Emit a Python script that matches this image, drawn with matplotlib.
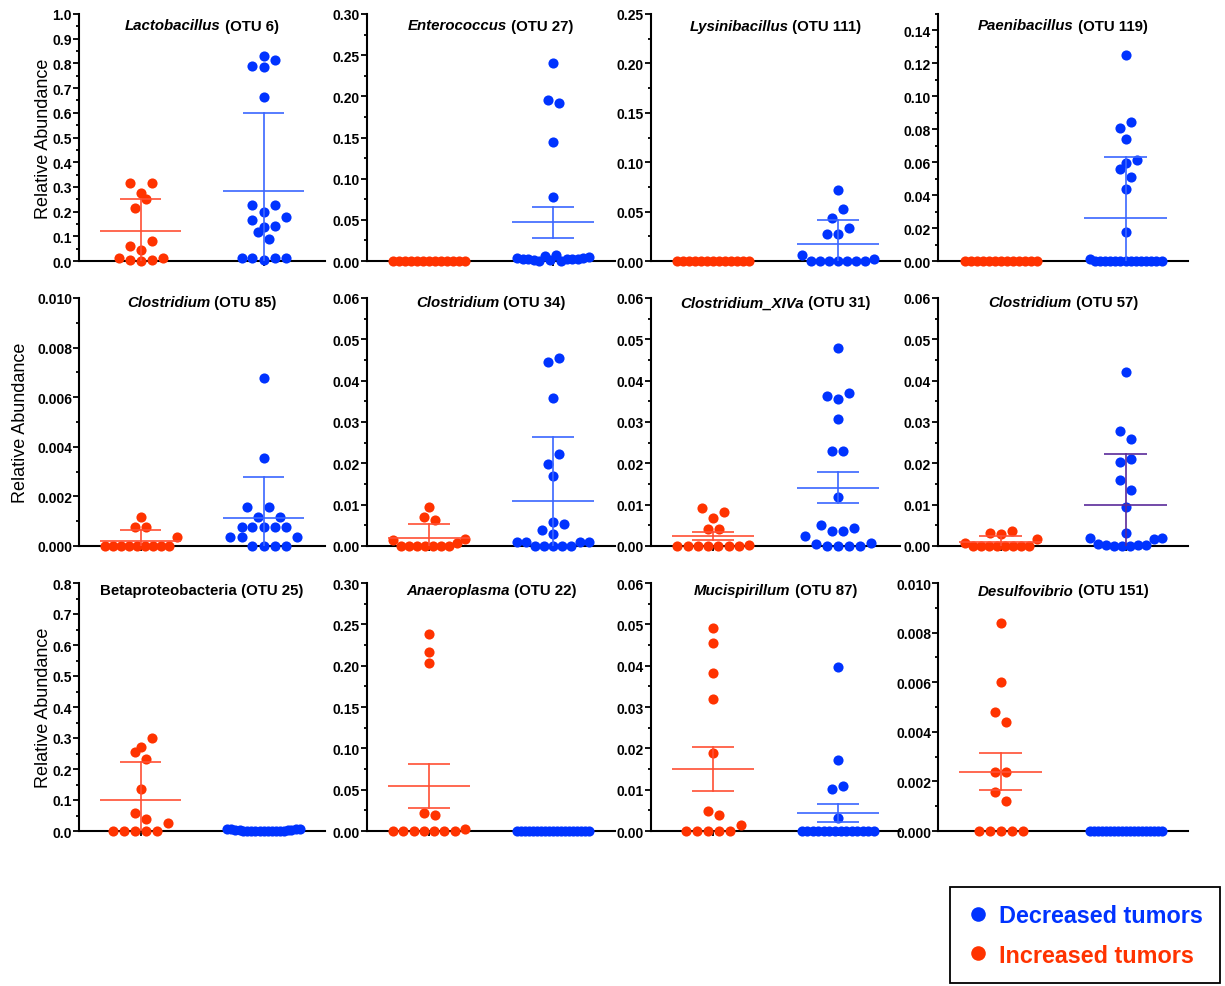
import numpy as np
import matplotlib
matplotlib.use("Agg")
import matplotlib.pyplot as plt
from matplotlib.ticker import MultipleLocator, FormatStrFormatter
from matplotlib.transforms import offset_copy
from matplotlib.lines import Line2D

plt.rcParams['font.family'] = ['Liberation Sans', 'DejaVu Sans']
plt.rcParams['font.weight'] = 'bold'

# ---------------- data ----------------
genus = ["Lactobacillus", "Enterococcus", "Lysinibacillus", "Paenibacillus",
         "Clostridium", "Clostridium", "Clostridium_XIVa", "Clostridium",
         "Betaproteobacteria", "Anaeroplasma", "Mucispirillum", "Desulfovibrio"]
genus_italic = [True, True, True, True, True, True, True, True, False, True, True, True]
otu = [" (OTU 6)", " (OTU 27)", " (OTU 111)", " (OTU 119)",
       " (OTU 85)", " (OTU 34)", " (OTU 31)", " (OTU 57)",
       " (OTU 25)", " (OTU 22)", " (OTU 87)", " (OTU 151)"]

inc_otu6 = [0.315, 0.277, 0.315, 0.216, 0.250, 0.060, 0.046, 0.080, 0.011, 0.004, 0.000, 0.004, 0.011]
dec_otu6 = [0.831, 0.790, 0.785, 0.814, 0.665, 0.228, 0.200, 0.228, 0.166, 0.138, 0.142, 0.177,
            0.117, 0.088, 0.011, 0.011, 0.004, 0.011, 0.011]
inc_otu27 = [0, 0, 0, 0, 0, 0, 0, 0, 0, 0, 0, 0, 0]
dec_otu27 = [0.240, 0.196, 0.192, 0.1445, 0.0773, 0.004, 0.003, 0.002, 0.001, 0.0005, 0.006, 0.001,
             0.0077, 0.0005, 0.002, 0.003, 0.003, 0.004, 0.005]
inc_otu111 = [0, 0, 0, 0, 0, 0, 0, 0, 0, 0, 0, 0, 0]
dec_otu111 = [0.0722, 0.0432, 0.0523, 0.027, 0.027, 0.033, 0.0057, 0, 0, 0, 0, 0, 0, 0, 0.0024]
inc_otu119 = [0, 0, 0, 0, 0, 0, 0, 0, 0, 0, 0, 0, 0]
dec_otu119 = [0.1254, 0.0805, 0.0846, 0.0738, 0.0598, 0.0560, 0.0613, 0.0513, 0.0436, 0.0174,
              0.001, 0, 0, 0, 0, 0, 0, 0, 0, 0, 0, 0, 0, 0, 0]
inc_otu85 = [0.00075, 0.00075, 0.00116, 0, 0, 0, 0, 0, 0, 0, 0, 0, 0.00035]
dec_otu85 = [0.00678, 0.00356, 0.00156, 0.00118, 0.00156, 0.00118, 0.00077, 0.00077, 0.00077,
             0.00077, 0.00077, 0.00035, 0.00035, 0, 0, 0, 0, 0.00035]
inc_otu34 = [0.0094, 0.0070, 0.0063, 0.00146, 0, 0, 0, 0, 0, 0, 0, 0.00065, 0.0018]
dec_otu34 = [0.0446, 0.0454, 0.0358, 0.0199, 0.0223, 0.0170, 0.0059, 0.0039, 0.0030, 0.0054,
             0.001, 0.001, 0, 0, 0, 0, 0, 0.001, 0.001]
inc_otu31 = [0.0091, 0.0067, 0.0083, 0.0040, 0.0040, 0, 0, 0, 0, 0, 0, 0, 0.0003]
dec_otu31 = [0.0479, 0.0364, 0.0355, 0.0370, 0.0307, 0.0231, 0.0231, 0.0119, 0.0051, 0.0036,
             0.0036, 0.0044, 0.0023, 0.0004, 0, 0, 0, 0, 0.0007]
inc_otu57 = [0.0032, 0.0028, 0.0036, 0.0007, 0, 0, 0, 0, 0, 0, 0, 0, 0.0016]
dec_otu57 = [0.0420, 0.0279, 0.0259, 0.0204, 0.0210, 0.0159, 0.0135, 0.0095, 0.0031, 0.0020,
             0.0006, 0.0003, 0, 0, 0, 0.0003, 0.0003, 0.0017, 0.0019]
inc_otu25 = [0.2717, 0.2997, 0.2534, 0.2318, 0.137, 0.0582, 0.040, 0, 0, 0, 0, 0, 0.0248]
dec_otu25 = [0.006, 0.005, 0.003, 0.002, 0.001, 0.001, 0, 0, 0, 0, 0, 0, 0, 0.001, 0.001,
             0.002, 0.004, 0.006, 0.007]
inc_otu22 = [0.2386, 0.2171, 0.2034, 0.0222, 0.0190, 0, 0, 0, 0, 0, 0, 0, 0.002]
dec_otu22 = [0, 0, 0, 0, 0, 0, 0, 0, 0, 0, 0, 0, 0, 0, 0, 0, 0, 0, 0]
inc_otu87 = [0.0492, 0.0455, 0.0383, 0.0320, 0.0188, 0.0049, 0.0038, 0, 0, 0, 0, 0, 0.0014]
dec_otu87 = [0.0396, 0.0172, 0.0101, 0.0109, 0.0032, 0, 0, 0, 0, 0, 0, 0, 0, 0, 0, 0, 0, 0, 0]
inc_otu151 = [0.00838, 0.0060, 0.00478, 0.0044, 0.00239, 0.00239, 0.00158, 0.0012, 0, 0, 0, 0, 0]
dec_otu151 = [0, 0, 0, 0, 0, 0, 0, 0, 0, 0, 0, 0, 0, 0, 0, 0, 0, 0, 0]

increased = [inc_otu6, inc_otu27, inc_otu111, inc_otu119, inc_otu85, inc_otu34,
             inc_otu31, inc_otu57, inc_otu25, inc_otu22, inc_otu87, inc_otu151]
decreased = [dec_otu6, dec_otu27, dec_otu111, dec_otu119, dec_otu85, dec_otu34,
             dec_otu31, dec_otu57, dec_otu25, dec_otu22, dec_otu87, dec_otu151]

# mean line and error bar ends (lower end may lie below 0)
inc_mean = [0.123, 0, 0, 0, 0.00022, 0.0020, 0.0024, 0.0010, 0.1003, 0.0546, 0.0150, 0.00239]
inc_low = [-0.006, 0, 0, 0, -0.0002, -0.0013, 0.0015, -0.0003, -0.020, 0.0279, 0.0096, 0.00164]
inc_high = [0.252, 0, 0, 0, 0.00063, 0.0053, 0.0035, 0.0023, 0.221, 0.0805, 0.0204, 0.00314]
dec_mean = [0.284, 0.047, 0.0169, 0.026, 0.00113, 0.0109, 0.0140, 0.00987, 0.001, 0, 0.0044, 0]
dec_low = [-0.03, 0.028, -0.008, -0.011, -0.0005, -0.0046, 0.0103, -0.0026, 0.001, 0, 0.0022, 0]
dec_high = [0.598, 0.0656, 0.0415, 0.0633, 0.00279, 0.0264, 0.0178, 0.0223, 0.001, 0, 0.0066, 0]

y_max = [1.0, 0.30, 0.25, 0.15, 0.010, 0.06, 0.06, 0.06, 0.8, 0.30, 0.06, 0.010]
y_major = [0.1, 0.05, 0.05, 0.02, 0.002, 0.01, 0.01, 0.01, 0.1, 0.05, 0.01, 0.002]
y_decimals = [1, 2, 2, 2, 3, 2, 2, 2, 1, 2, 2, 3]

legend_labels = ["Decreased tumors", "Increased tumors"]

# ---------------- style ----------------
RED = "#ff3300"
BLUE = "#0033ff"
RED_LINE = "#ff4f33"
BLUE_LINE = "#3a66ff"
PURPLE_LINE = "#5a2a9a"

W, H = 1225, 987
col_left = [79, 367, 651, 938]
col_w = [246, 248, 249, 250]
row_top = [15, 299, 584]
row_h = [247, 248, 248]
title_base = [15.5, 8.5, 11.5]   # px from axes top to title baseline
ylabel_x = [-0.108, -0.205, -0.108]

DOT_PX = 10.0
STEP_PX = 11.0
MAXHALF_PX = 36.0
COLLIDE_PX = 7.5


def layout(values, center, ymax, w_px, h_px):
    v = np.asarray(values, float)
    n = len(v)
    dy = DOT_PX / h_px * ymax
    order = sorted(range(n), key=lambda i: (v[i], i))
    rows = []
    for i in order:
        if rows and v[i] - v[rows[-1][0]] < dy:
            rows[-1].append(i)
        else:
            rows.append([i])
    xpx = np.zeros(n)
    ypx = v / ymax * h_px
    placed = []
    for r in rows:
        r = sorted(r)
        m = len(r)
        step = STEP_PX if m == 1 else min(STEP_PX, 2 * MAXHALF_PX / (m - 1))
        base = [(k - (m - 1) / 2) * step for k in range(m)]
        chosen = 0.0
        for s in [0, 1, -1, 2, -2, 3, -3, 4, -4, 5, -5, 6, -6]:
            shift = s * STEP_PX / 2
            ok = True
            for b, i in zip(base, r):
                for j in placed:
                    if np.hypot(b + shift - xpx[j], ypx[i] - ypx[j]) < COLLIDE_PX:
                        ok = False
                        break
                if not ok:
                    break
            if ok:
                chosen = shift
                break
        for b, i in zip(base, r):
            xpx[i] = b + chosen
        placed.extend(r)
    return center + xpx * 2.0 / w_px


fig = plt.figure(figsize=(W / 100, H / 100), dpi=100)
renderer = fig.canvas.get_renderer()

for p in range(12):
    rr, cc = divmod(p, 4)
    l, w = col_left[cc], col_w[cc]
    t, h = row_top[rr], row_h[rr]
    ax = fig.add_axes([l / W, 1 - (t + h) / H, w / W, h / H])
    ymax = y_max[p]
    groups = [(0, increased[p], RED, RED_LINE, inc_mean[p], inc_low[p], inc_high[p]),
              (1, decreased[p], BLUE, BLUE_LINE, dec_mean[p], dec_low[p], dec_high[p])]
    for gx, vals, col, lcol, mu, lo, hi in groups:
        xs = layout(vals, gx, ymax, w, h)
        ax.plot(xs, vals, linestyle='none', marker='o', markersize=7.3,
                markerfacecolor=col, markeredgecolor=col, markeredgewidth=0,
                clip_on=False, zorder=3)
        if p == 7 and gx == 1:
            lcol = PURPLE_LINE
        if hi > mu:
            ax.plot([gx - 0.33, gx + 0.33], [mu, mu], color=lcol, lw=1.2, zorder=4,
                    solid_capstyle='butt')
            ax.plot([gx, gx], [lo, hi], color=lcol, lw=1.2, zorder=4)
            ax.plot([gx - 0.17, gx + 0.17], [hi, hi], color=lcol, lw=1.2, zorder=4,
                    solid_capstyle='butt')
            if lo >= 0:
                ax.plot([gx - 0.17, gx + 0.17], [lo, lo], color=lcol, lw=1.2, zorder=4,
                        solid_capstyle='butt')
    ax.set_xlim(-0.5, 1.5)
    ax.set_ylim(0, ymax)
    ax.yaxis.set_major_locator(MultipleLocator(y_major[p]))
    ax.yaxis.set_minor_locator(MultipleLocator(y_major[p] / 2))
    ax.yaxis.set_major_formatter(FormatStrFormatter('%%.%df' % y_decimals[p]))
    ax.set_xticks([0, 1])
    ax.set_xticklabels([])
    for s in ['top', 'right']:
        ax.spines[s].set_visible(False)
    for s in ['left', 'bottom']:
        ax.spines[s].set_linewidth(1.5)
    ax.tick_params(axis='y', which='major', direction='out', length=4.2, width=1.3,
                   pad=0.8, labelsize=10)
    ax.tick_params(axis='y', which='minor', direction='out', length=2.3, width=1.3)
    ax.tick_params(axis='x', which='major', direction='out', length=3.5, width=1.3)
    for lab in ax.get_yticklabels():
        lab.set_fontweight('bold')
    if cc == 0:
        ax.set_ylabel("Relative Abundance", fontsize=13, fontweight='normal')
        ax.yaxis.set_label_coords(ylabel_x[rr], 0.5)

    # title: italic genus + plain OTU text, centred as one line
    ty = 1 - title_base[rr] / h
    t1 = ax.text(0.5, ty, genus[p], transform=ax.transAxes, ha='left', va='baseline',
                 fontsize=10.8, fontweight='bold',
                 fontstyle='italic' if genus_italic[p] else 'normal')
    t2 = ax.text(0.5, ty, otu[p], transform=ax.transAxes, ha='left', va='baseline',
                 fontsize=10.8, fontweight='bold')
    w1 = t1.get_window_extent(renderer).width
    w2 = t2.get_window_extent(renderer).width
    tot = w1 + w2
    t1.set_transform(offset_copy(ax.transAxes, fig=fig, x=-tot / 2, y=0, units='dots'))
    t2.set_transform(offset_copy(ax.transAxes, fig=fig, x=-tot / 2 + w1, y=0, units='dots'))

handles = [Line2D([], [], linestyle='none', marker='o', markersize=10.5, color=BLUE,
                  markeredgewidth=0),
           Line2D([], [], linestyle='none', marker='o', markersize=10.5, color=RED,
                  markeredgewidth=0)]
leg = fig.legend(handles, legend_labels, loc='upper left',
                 bbox_to_anchor=(950 / W, 1 - 888 / H), borderaxespad=0,
                 prop=dict(size=16.8, weight='bold'), frameon=True, fancybox=False,
                 edgecolor='black', framealpha=1, borderpad=0.72, labelspacing=0.72,
                 handlelength=1.0, handletextpad=0.38)
leg.get_frame().set_linewidth(1.3)
for txt, col in zip(leg.get_texts(), [BLUE, RED]):
    txt.set_color(col)

fig.savefig("out.png", dpi=100)
